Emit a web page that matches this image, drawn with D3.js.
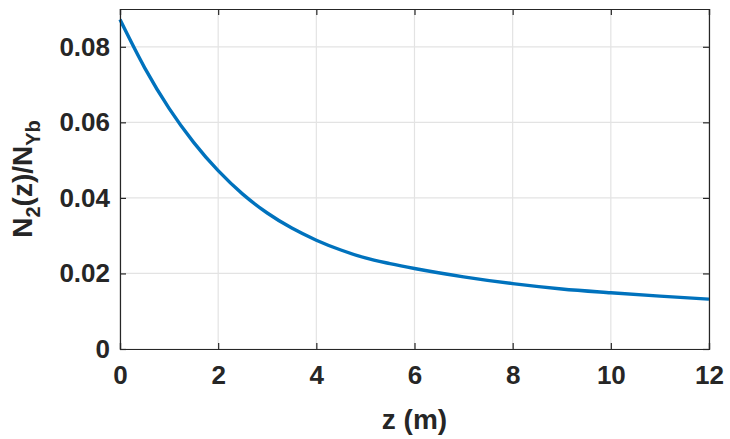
<!DOCTYPE html>
<html>
<head>
<meta charset="utf-8">
<script src="https://cdn.jsdelivr.net/npm/d3@7"></script>
<style>
  body { margin: 0; background: #fff; }
  text { font-family: "Liberation Sans", Arial, sans-serif; font-weight: bold; fill: #262626; }
</style>
</head>
<body>
<div id="chart"></div>
<script>
// data
const zValues = [0, 0.5, 1, 1.5, 2, 2.5, 3, 3.5, 4, 4.5, 5, 5.5, 6, 7, 8, 9, 10, 11, 12];
const nRatio = [0.0872, 0.0745, 0.0637, 0.0547, 0.0472, 0.0410, 0.0360, 0.0320, 0.0288, 0.0262, 0.0241, 0.0226, 0.0213, 0.0191, 0.0173, 0.0159, 0.0149, 0.0140, 0.0132];
const xTicks = [0, 2, 4, 6, 8, 10, 12];
const yTicks = [0, 0.02, 0.04, 0.06, 0.08];

const WIDTH = 730, HEIGHT = 439;
const MARGIN = { top: 9, right: 21, bottom: 90, left: 120 };
const W = WIDTH - MARGIN.left - MARGIN.right;
const H = HEIGHT - MARGIN.top - MARGIN.bottom;

const svg = d3.select('#chart')
	.append('svg')
		.attr('width', WIDTH)
		.attr('height', HEIGHT);

const g = svg.append('g')
	.attr('transform', `translate(${MARGIN.left}, ${MARGIN.top})`);

const x = d3.scaleLinear().domain([0, 12]).range([0, W]);
const y = d3.scaleLinear().domain([0, 0.09]).range([H, 0]);

// grid
g.append('g')
	.selectAll('line')
	.data(xTicks)
	.enter().append('line')
		.attr('x1', d => x(d)).attr('x2', d => x(d))
		.attr('y1', 0).attr('y2', H)
		.attr('stroke', '#e3e3e3').attr('stroke-width', 1.2);
g.append('g')
	.selectAll('line')
	.data(yTicks)
	.enter().append('line')
		.attr('x1', 0).attr('x2', W)
		.attr('y1', d => y(d)).attr('y2', d => y(d))
		.attr('stroke', '#e3e3e3').attr('stroke-width', 1.2);

// curve
const line = d3.line()
	.x(d => x(d[0]))
	.y(d => y(d[1]))
	.curve(d3.curveMonotoneX);

g.append('path')
	.datum(zValues.map((z, i) => [z, nRatio[i]]))
	.attr('d', line)
	.attr('fill', 'none')
	.attr('stroke', '#0072BD')
	.attr('stroke-width', 3.4);

// axes (MATLAB style: ticks pointing inward, box on)
const xAxis = d3.axisBottom(x).tickValues(xTicks).tickSize(-6).tickPadding(17).tickFormat(d3.format('d'));
const yAxis = d3.axisLeft(y).tickValues(yTicks).tickSize(-6).tickPadding(10).tickFormat(d => d === 0 ? '0' : d3.format('.2f')(d));
const xTop = d3.axisTop(x).tickValues(xTicks).tickSize(-6).tickFormat('');
const yRight = d3.axisRight(y).tickValues(yTicks).tickSize(-6).tickFormat('');

const gx = g.append('g').attr('transform', `translate(0, ${H})`).call(xAxis);
const gy = g.append('g').call(yAxis);
const gxt = g.append('g').call(xTop);
const gyr = g.append('g').attr('transform', `translate(${W}, 0)`).call(yRight);

[gx, gy, gxt, gyr].forEach(a => {
	a.selectAll('path, line').attr('stroke', '#262626').attr('stroke-width', 1.2);
	a.selectAll('text').style('font-size', '26px').attr('fill', '#262626');
});

// axis labels
g.append('text')
	.attr('x', W / 2)
	.attr('y', H + 80)
	.attr('text-anchor', 'middle')
	.style('font-size', '28px')
	.text('z (m)');

const yl = g.append('text')
	.attr('transform', `translate(${-88}, ${H / 2}) rotate(-90)`)
	.attr('text-anchor', 'middle')
	.style('font-size', '28px');
yl.append('tspan').text('N');
yl.append('tspan').attr('dy', 8).style('font-size', '20px').text('2');
yl.append('tspan').attr('dy', -8).text('(z)/N');
yl.append('tspan').attr('dy', 8).style('font-size', '20px').text('Yb');
</script>
</body>
</html>
